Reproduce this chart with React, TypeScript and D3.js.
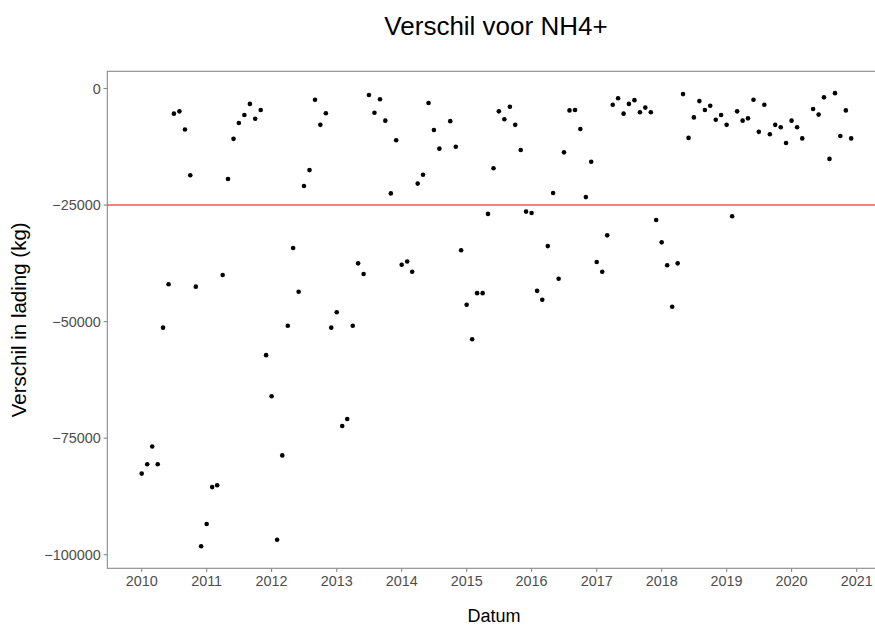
import React from "react";
import * as d3 from "d3";

// ---- Data (monthly) ----
const dates: string[] = [
  "2010-01","2010-02","2010-03","2010-04","2010-05","2010-06","2010-07","2010-08","2010-09","2010-10","2010-11","2010-12",
  "2011-01","2011-02","2011-03","2011-04","2011-05","2011-06","2011-07","2011-08","2011-09","2011-10","2011-11","2011-12",
  "2012-01","2012-02","2012-03","2012-04","2012-05","2012-06","2012-07","2012-08","2012-09","2012-10","2012-11","2012-12",
  "2013-01","2013-02","2013-03","2013-04","2013-05","2013-06","2013-07","2013-08","2013-09","2013-10","2013-11","2013-12",
  "2014-01","2014-02","2014-03","2014-04","2014-05","2014-06","2014-07","2014-08","2014-10","2014-11","2014-12",
  "2015-01","2015-02","2015-03","2015-04","2015-05","2015-06","2015-07","2015-08","2015-09","2015-10","2015-11","2015-12",
  "2016-01","2016-02","2016-03","2016-04","2016-05","2016-06","2016-07","2016-08","2016-09","2016-10","2016-11","2016-12",
  "2017-01","2017-02","2017-03","2017-04","2017-05","2017-06","2017-07","2017-08","2017-09","2017-10","2017-11","2017-12",
  "2018-01","2018-02","2018-03","2018-04","2018-05","2018-06","2018-07","2018-08","2018-09","2018-10","2018-11","2018-12",
  "2019-01","2019-02","2019-03","2019-04","2019-05","2019-06","2019-07","2019-08","2019-09","2019-10","2019-11","2019-12",
  "2020-01","2020-02","2020-03","2020-05","2020-06","2020-07","2020-08","2020-09","2020-10","2020-11","2020-12",
];

const values: number[] = [
  -82600, -80600, -76800, -80600, -51300, -42000, -5400, -4900, -8800, -18600, -42500, -98200,
  -93400, -85500, -85100, -40000, -19400, -10800, -7400, -5700, -3300, -6500, -4600, -57200,
  -66000, -96800, -78700, -50900, -34200, -43600, -20900, -17500, -2400, -7800, -5300, -51300,
  -48000, -72400, -70900, -50900, -37500, -39800, -1400, -5200, -2300, -6900, -22500, -11100,
  -37800, -37100, -39300, -20400, -18500, -3100, -8900, -12900, -7000, -12500, -34700,
  -46400, -53800, -43900, -43900, -26900, -17100, -4900, -6600, -3900, -7800, -13200, -26400,
  -26700, -43400, -45300, -33800, -22400, -40800, -13700, -4700, -4600, -8700, -23300, -15700,
  -37200, -39300, -31500, -3500, -2100, -5400, -3300, -2500, -5100, -4100, -5100, -28200,
  -33000, -37900, -46800, -37500, -1200, -10600, -6200, -2700, -4600, -3700, -6700, -5700,
  -7800, -27400, -4900, -6900, -6400, -2400, -9300, -3500, -9800, -7800, -8300, -11700,
  -6900, -8300, -10700, -4400, -5600, -1900, -15100, -1000, -10200, -4700, -10700,
];

const yTicks: number[] = [0, -25000, -50000, -75000, -100000];
const xTickYears: number[] = [2010, 2011, 2012, 2013, 2014, 2015, 2016, 2017, 2018, 2019, 2020, 2021];
const threshold = -25000;

const title = "Verschil voor NH4+";
const xLabel = "Datum";
const yLabel = "Verschil in lading (kg)";

// ---- Layout ----
const W = 875;
const H = 629;
const panel = { left: 107.3, top: 71.3, right: 900, bottom: 568.3 };
const FONT = "'Liberation Sans', Arial, Helvetica, sans-serif";
const GRAY_LINE = "#8a8a8a";
const GRAY_TEXT = "#4d4d4d";

function parseMonth(s: string): Date {
  const [y, m] = s.split("-").map(Number);
  return new Date(Date.UTC(y, m - 1, 1));
}

export default function App() {
  const x = d3
    .scaleUtc()
    .domain([new Date(Date.UTC(2010, 0, 1)), new Date(Date.UTC(2021, 0, 1))])
    .range([141.7, 856.7]);
  const y = d3.scaleLinear().domain([0, -100000]).range([88.5, 554.7]);

  const points = dates.map((d, i) => ({ date: parseMonth(d), value: values[i] }));
  const fmt = d3.format("d");

  return (
    <svg
      width={W}
      height={H}
      style={{ position: "absolute", left: 0, top: 0, background: "#fff" }}
      fontFamily={FONT}
    >
      <rect x={0} y={0} width={W} height={H} fill="#fff" />

      {/* title */}
      <text x={496} y={35} textAnchor="middle" fontSize={26} fill="#000">
        {title}
      </text>

      {/* panel border */}
      <rect
        x={panel.left}
        y={panel.top}
        width={panel.right - panel.left}
        height={panel.bottom - panel.top}
        fill="none"
        stroke={GRAY_LINE}
        strokeWidth={1.1}
      />

      {/* threshold line */}
      <line
        x1={panel.left}
        x2={panel.right}
        y1={y(threshold)}
        y2={y(threshold)}
        stroke="#ff0000"
        strokeWidth={1.1}
      />

      {/* points */}
      {points.map((p, i) => (
        <circle key={i} cx={x(p.date)} cy={y(p.value)} r={2.3} fill="#000" />
      ))}

      {/* y axis */}
      {yTicks.map((t) => (
        <g key={t}>
          <line
            x1={panel.left - 3.7}
            x2={panel.left}
            y1={y(t)}
            y2={y(t)}
            stroke={GRAY_LINE}
            strokeWidth={1.1}
          />
          <text
            x={panel.left - 6.6}
            y={y(t)}
            dy="0.36em"
            textAnchor="end"
            fontSize={14.4}
            fill={GRAY_TEXT}
          >
            {fmt(t)}
          </text>
        </g>
      ))}

      {/* x axis */}
      {xTickYears.map((yr) => {
        const xx = x(new Date(Date.UTC(yr, 0, 1)));
        return (
          <g key={yr}>
            <line
              x1={xx}
              x2={xx}
              y1={panel.bottom}
              y2={panel.bottom + 3.7}
              stroke={GRAY_LINE}
              strokeWidth={1.1}
            />
            <text x={xx} y={586} textAnchor="middle" fontSize={14.4} fill={GRAY_TEXT}>
              {yr}
            </text>
          </g>
        );
      })}

      {/* axis titles */}
      <text x={494} y={622} textAnchor="middle" fontSize={18} fill="#000">
        {xLabel}
      </text>
      <text
        transform={`translate(26, ${(panel.top + panel.bottom) / 2}) rotate(-90)`}
        textAnchor="middle"
        fontSize={20.5}
        fill="#000"
      >
        {yLabel}
      </text>
    </svg>
  );
}
